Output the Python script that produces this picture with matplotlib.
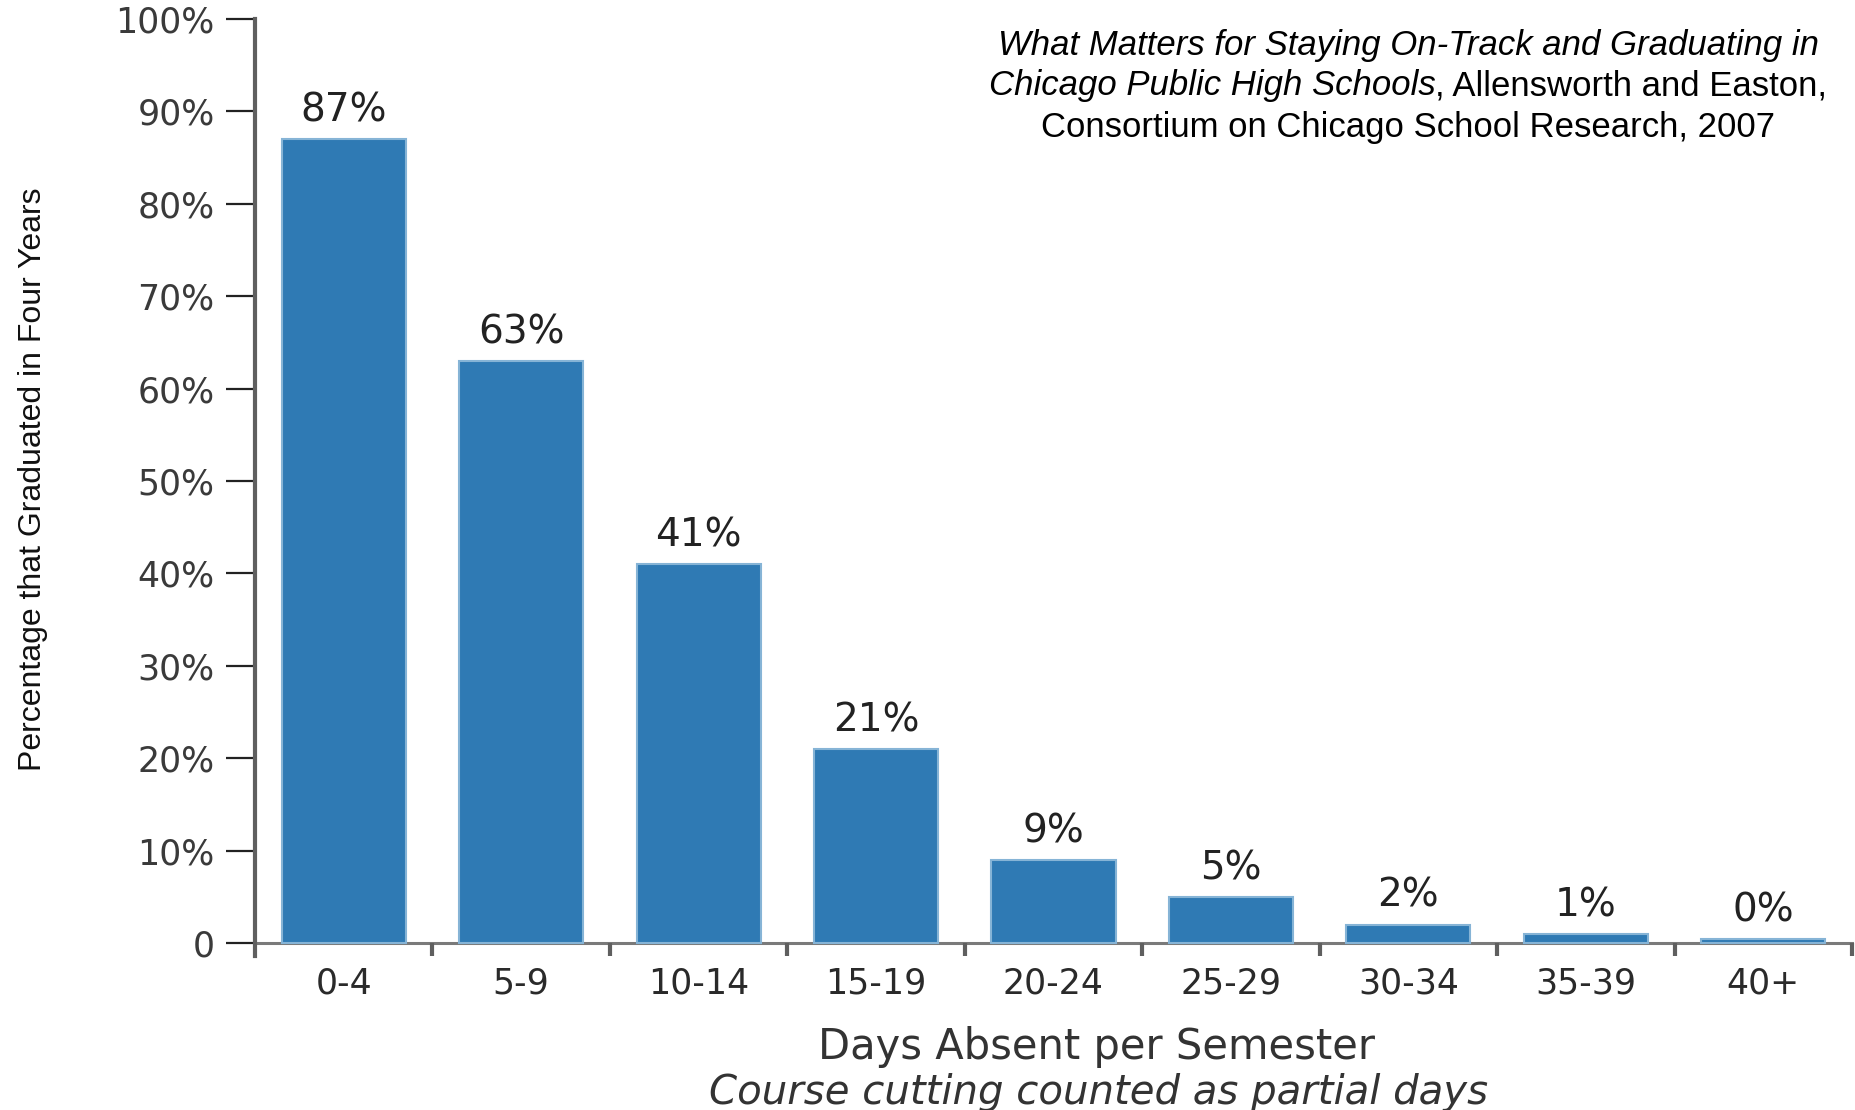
import matplotlib
matplotlib.use("Agg")
import matplotlib.pyplot as plt

# graduation rate by days absent per semester
categories = ["0-4", "5-9", "10-14", "15-19", "20-24", "25-29", "30-34", "35-39", "40+"]
grad_pct = [87, 63, 41, 21, 9, 5, 2, 1, 0.4]
y_ticks = [0, 10, 20, 30, 40, 50, 60, 70, 80, 90, 100]
y_tick_labels = ["0"] + [f"{t}%" for t in y_ticks[1:]]

W, H = 1855, 1110
fig = plt.figure(figsize=(W / 100, H / 100), dpi=100)
ax = fig.add_axes([255 / W, 1 - 956 / H, (1852 - 255) / W, (956 - 19) / H])

x = list(range(len(categories)))
bars = ax.bar(x, grad_pct, width=0.7, color="#2f7ab4", edgecolor="#86b4d6",
              linewidth=1.5, zorder=2)
ax.bar_label(bars, labels=[f"{round(v)}%" for v in grad_pct], padding=7,
             fontsize=28, color="#222222", family="DejaVu Sans")

ax.set_xlim(-0.5, len(categories) - 0.5)
ax.set_ylim(-1.4, 100)

# spines: left one runs a little below zero, bottom one sits at y=0
for side in ["top", "right"]:
    ax.spines[side].set_visible(False)
ax.spines["left"].set_color("#5f5f5f")
ax.spines["left"].set_linewidth(3)
ax.spines["bottom"].set_position(("data", 0))
ax.spines["bottom"].set_color("#7a7a7a")
ax.spines["bottom"].set_linewidth(2.2)
ax.spines["bottom"].set_zorder(1)

ax.set_yticks(y_ticks)
ax.set_yticklabels(y_tick_labels)
ax.tick_params(axis="y", direction="out", length=21, width=1.6, color="#222222",
               pad=8, labelsize=25, labelcolor="#3a3a3a")

# major x ticks separate the categories, minor ticks carry the labels
ax.set_xticks([i + 0.5 for i in x])
ax.set_xticklabels([])
ax.set_xticks(x, minor=True)
ax.set_xticklabels(categories, minor=True)
ax.tick_params(axis="x", which="major", direction="out", length=9, width=3,
               color="#5f5f5f")
ax.tick_params(axis="x", which="minor", length=0, pad=17, labelsize=25,
               labelcolor="#2a2a2a")

fig.text(33 / W, 1 - 479 / H, "Percentage that Graduated in Four Years",
         rotation=90, ha="center", va="center", fontsize=23, color="#111111",
         family="Liberation Sans")
fig.text(1097 / W, 1 - 1047 / H, "Days Absent per Semester", ha="center",
         va="center", fontsize=30, color="#333333", family="DejaVu Sans")
fig.text(1099 / W, 1 - 1092 / H, "Course cutting counted as partial days",
         ha="center", va="center", fontsize=29, color="#333333",
         family="DejaVu Sans", style="italic")

# source citation, top right
cx = 1408 / W
cite_font = dict(fontsize=25, color="black", family="Liberation Sans",
                 va="center")
fig.text(cx, 1 - 45 / H, "What Matters for Staying On-Track and Graduating in",
         ha="center", style="italic", **cite_font)
fig.text(cx, 1 - 128 / H, "Consortium on Chicago School Research, 2007",
         ha="center", **cite_font)

part_a = fig.text(0, 1 - 86 / H, "Chicago Public High Schools", ha="left",
                  style="italic", **cite_font)
part_b = fig.text(0, 1 - 86 / H, ", Allensworth and Easton,", ha="left",
                  **cite_font)
renderer = fig.canvas.get_renderer()
wa = part_a.get_window_extent(renderer).width
wb = part_b.get_window_extent(renderer).width
x0 = cx * W - (wa + wb) / 2
part_a.set_x(x0 / W)
part_b.set_x((x0 + wa) / W)

fig.savefig("out.png", dpi=100)
